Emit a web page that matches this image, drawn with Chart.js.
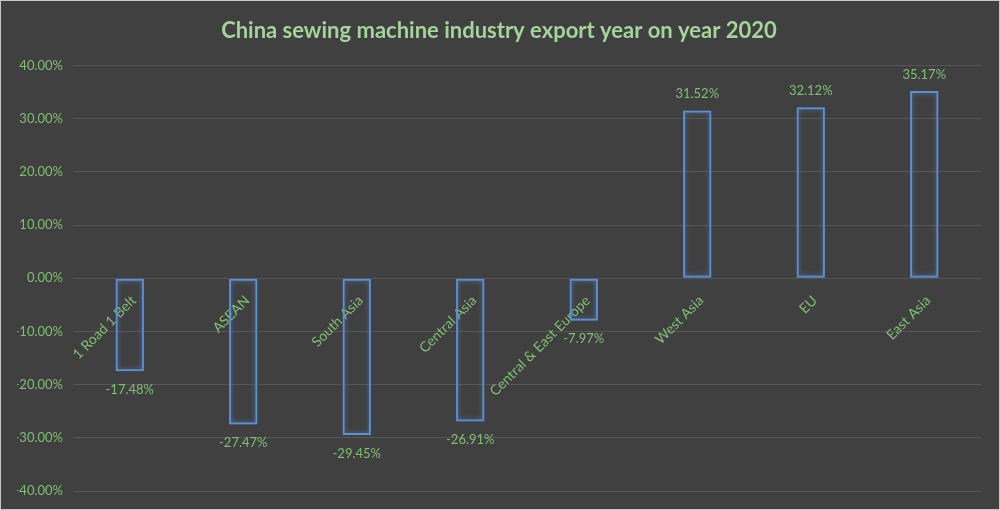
<!DOCTYPE html>
<html>
<head>
<meta charset="utf-8">
<script src="https://cdn.jsdelivr.net/npm/chart.js@4.4.1/dist/chart.umd.min.js"></script>
<style>
  html, body { margin: 0; padding: 0; background: #404040; }
  #wrap { width: 998px; height: 508px; border: 1px solid #c8c8c8; position: relative; }
</style>
</head>
<body>
<div id="wrap"><canvas id="chart"></canvas></div>
<script>
// data
var regions = ["1 Road 1 Belt", "ASEAN", "South Asia", "Central Asia", "Central & East Europe", "West Asia", "EU", "East Asia"];
var growth = [-17.48, -27.47, -29.45, -26.91, -7.97, 31.52, 32.12, 35.17];
var yTicks = [40, 30, 20, 10, 0, -10, -20, -30, -40];

var green = "#7fbf72";
var font = "Lato, 'Open Sans', sans-serif";

// soft glow round the bar outlines
var glow = {
    id: "glow",
    beforeDatasetsDraw: function (chart) {
        var ctx = chart.ctx;
        ctx.save();
        ctx.shadowColor = "rgba(91,143,214,0.7)";
        ctx.shadowBlur = 5;
    },
    afterDatasetsDraw: function (chart) {
        chart.ctx.restore();
    }
};

// value labels above / below each bar
var valueLabels = {
    id: "valueLabels",
    afterDatasetsDraw: function (chart) {
        var ctx = chart.ctx;
        var meta = chart.getDatasetMeta(0);
        ctx.save();
        ctx.fillStyle = green;
        ctx.font = "13px " + font;
        ctx.textAlign = "center";
        meta.data.forEach(function (bar, i) {
            var v = growth[i];
            if (v >= 0) {
                ctx.textBaseline = "bottom";
                ctx.fillText(v.toFixed(2) + "%", bar.x, bar.y - 10);
            } else {
                ctx.textBaseline = "top";
                ctx.fillText(v.toFixed(2) + "%", bar.x, bar.y + 12);
            }
        });
        ctx.restore();
    }
};

new Chart(document.getElementById("chart"), {
    type: "bar",
    data: {
        labels: regions,
        datasets: [{
            data: growth,
            backgroundColor: "rgba(0,0,0,0)",
            borderColor: "#5b8fd6",
            borderWidth: 2,
            borderSkipped: false,
            barPercentage: 0.25,
            categoryPercentage: 1
        }]
    },
    options: {
        responsive: true,
        maintainAspectRatio: false,
        animation: false,
        layout: { padding: { left: 16, right: 18, top: 0, bottom: 13 } },
        plugins: {
            legend: { display: false },
            tooltip: { enabled: false },
            title: {
                display: true,
                text: "China sewing machine industry export year on year 2020",
                color: "#a3d49a",
                font: { family: font, size: 22, weight: "bold" },
                padding: { top: 17, bottom: 21 }
            }
        },
        scales: {
            x: {
                position: { y: 0 },
                grid: { display: false, drawTicks: false },
                border: { display: false },
                ticks: {
                    color: green,
                    font: { family: font, size: 14 },
                    minRotation: 45,
                    maxRotation: 45,
                    padding: 14,
                    labelOffset: 4
                }
            },
            y: {
                min: -40,
                max: 40,
                afterBuildTicks: function (scale) {
                    scale.ticks = yTicks.map(function (v) { return { value: v }; });
                },
                afterFit: function (scale) { scale.width = 56; },
                grid: { color: "#575757", lineWidth: 1, drawTicks: false },
                border: { display: false },
                ticks: {
                    color: green,
                    font: { family: font, size: 13 },
                    padding: 10,
                    callback: function (v) { return v.toFixed(2) + "%"; }
                }
            }
        }
    },
    plugins: [glow, valueLabels]
});
</script>
</body>
</html>
